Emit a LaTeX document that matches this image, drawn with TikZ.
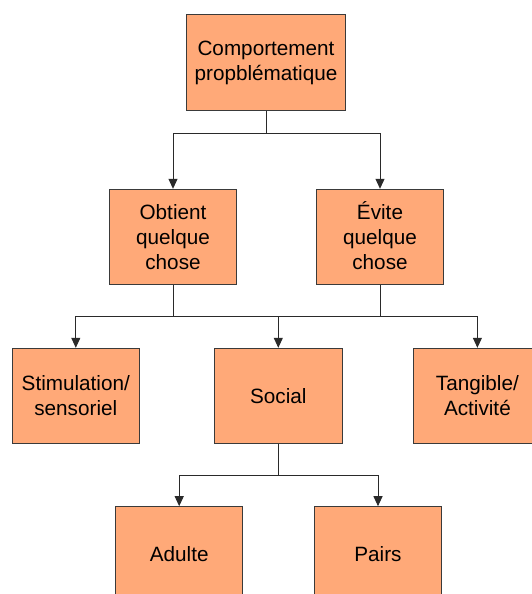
\documentclass[tikz,border=0pt]{standalone}
\usepackage{fontspec}
\setmainfont{Liberation Sans}
\usetikzlibrary{arrows.meta}
\definecolor{boxfill}{HTML}{FFA978}
\definecolor{boxline}{HTML}{3A3A3A}
\definecolor{connline}{HTML}{2A2A2A}
\tikzset{
  box/.style={draw=boxline, fill=boxfill, line width=1pt, minimum height=95pt,
    inner sep=0pt, align=center, font=\fontsize{20.7}{25}\selectfont},
  smallbox/.style={box, minimum width=127.5pt},
  conn/.style={draw=connline, line width=1pt},
  arr/.style={conn, -{Triangle[width=9pt,length=10pt]}},
}
\begin{document}
\begin{tikzpicture}[x=1pt,y=-1pt]
\useasboundingbox (0,0) rectangle (532,594);
\clip (0,0) rectangle (532,594);
% nodes
\node[box, minimum width=158.5pt] (top) at (266,62.5) {Comportement\\propblématique};
\node[smallbox] (ob) at (173,236.8) {Obtient\\quelque\\chose};
\node[smallbox] (ev) at (380,236.8) {\smash{É}vite\vphantom{b}\\quelque\\chose};
\node[smallbox] (st) at (75.8,395.8) {Stimulation/\\sensoriel};
\node[smallbox] (so) at (278.3,395.8) {Social};
\node[smallbox] (ta) at (477.4,395.8) {Tangible/\\Activité};
\node[smallbox] (ad) at (179.2,554.2) {Adulte};
\node[smallbox] (pa) at (378,554.2) {Pairs};
% branch points
\coordinate (b1) at (266,133.3);
\coordinate (b2) at (173,316);
\coordinate (b3) at (380,316);
\coordinate (b4) at (278.3,475);
% connectors
\draw[conn] (top.south) -- (b1);
\draw[arr] (b1) -| (ob.north);
\draw[arr] (b1) -| (ev.north);
\draw[conn] (ob.south) -- (b2);
\draw[conn] (ev.south) -- (b3);
\draw[conn] (b2) -- (b3);
\draw[arr] (b2) -| (st.north);
\draw[arr] (b2) -| (so.north);
\draw[arr] (b3) -| (ta.north);
\draw[conn] (so.south) -- (b4);
\draw[arr] (b4) -| (ad.north);
\draw[arr] (b4) -| (pa.north);
\end{tikzpicture}
\end{document}
